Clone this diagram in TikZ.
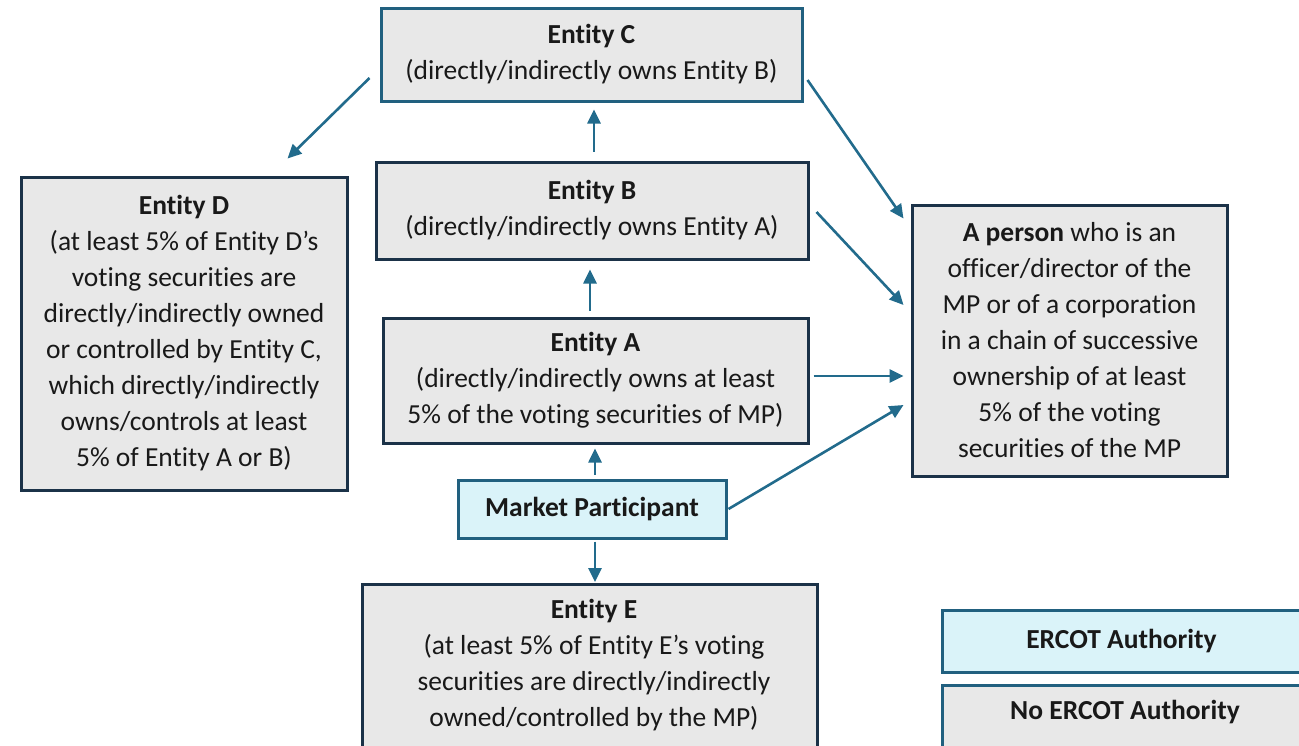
\documentclass[tikz,border=0pt]{standalone}
\usepackage{fontspec}
\setmainfont{Carlito}[Ligatures={NoCommon}]
\usetikzlibrary{arrows.meta,calc}
\definecolor{grayfill}{HTML}{E8E8E8}
\definecolor{bluefill}{HTML}{DAF3F9}
\definecolor{navy}{HTML}{1B3248}
\definecolor{tealb}{HTML}{21607F}
\definecolor{arrowc}{HTML}{226B8C}
\tikzset{
  txt/.style={font=\fontsize{27.5}{36}\selectfont, text=black!90},
  box/.style={draw=navy, fill=grayfill, line width=3pt, align=center, inner sep=0pt, txt},
  bbox/.style={box, draw=tealb},
  lbox/.style={box, draw=tealb, fill=bluefill},
  arr/.style={draw=arrowc, line width=2.6pt, -{Triangle[length=14pt,width=13pt]}},
}
\begin{document}
\begin{tikzpicture}[x=1pt,y=-1pt]
\useasboundingbox (0,0) rectangle (1299,745);
\clip (0,0) rectangle (1299,745);
\node[bbox, minimum width=421pt, minimum height=93pt] (C) at (591.5,54.5)
  {\textbf{Entity C}\\(directly/indirectly owns Entity B)};
\node[box, minimum width=432pt, minimum height=97pt] (B) at (592,210.5)
  {\textbf{Entity B}\\(directly/indirectly owns Entity A)};
\node[box, minimum width=425pt, minimum height=125pt] (A) at (595.5,380.5)
  {\textbf{Entity A}\\(directly/indirectly owns at least\\5\% of the voting securities of MP)};
\node[lbox, minimum width=268pt, minimum height=58pt] (MP) at (592,509)
  {\textbf{Market Participant}};
\node[box, minimum width=455pt, minimum height=200pt, anchor=north] (E) at (589.5,583)
  {};
\node[txt, align=center, anchor=north] (Et) at (594,596)
  {\textbf{Entity E}\\(at least 5\% of Entity E’s voting\\securities are directly/indirectly\\owned/controlled by the MP)};
\node[box, minimum width=326pt, minimum height=313pt] (D) at (184,333.5)
  {\textbf{Entity D}\\(at least 5\% of Entity D’s\\voting securities are\\directly/indirectly owned\\or controlled by Entity C,\\which directly/indirectly\\owns/controls at least\\5\% of Entity A or B)};
\node[box, minimum width=315pt, minimum height=271pt] (P) at (1069.5,340.5)
  {\textbf{A person} who is an\\officer/director of the\\MP or of a corporation\\in a chain of successive\\ownership of at least\\5\% of the voting\\securities of the MP};
\node[lbox, minimum width=366pt, minimum height=62pt, anchor=west] (L1) at (941,641)
  {\hspace*{-8pt}\textbf{ERCOT Authority}};
\node[box, draw=tealb, minimum width=370pt, minimum height=70pt, anchor=north west] (L2) at (941,684)
  {};
\node[txt] (L2t) at (1125,712) {\textbf{No ERCOT Authority}};
% arrows
\draw[arr] ($(B.north)+(2,-9)$) -- ($(C.south)+(2.5,7)$);
\draw[arr] ($(A.north)+(-5.5,-6)$) -- ($(B.south)+(-2,9)$);
\draw[arr] ($(MP.north)+(3,-4)$) -- ($(A.south)+(-0.5,4)$);
\draw[arr] ($(MP.south)+(3,2)$) -- ($(E.north)+(5.5,-1)$);
\draw[arr] ($(C.west)+(-10,23.5)$) -- ($(D.north east)+(-61,-17)$);
\draw[arr] ($(C.east)+(4,25.5)$) -- ($(P.north west)+(-7,15)$);
\draw[arr] ($(B.east)+(7,1.5)$) -- ($(P.west)+(-7,-35.5)$);
\draw[arr] ($(A.east)+(4,-4.5)$) -- ($(P.west)+(-7,35.5)$);
\draw[arr] ($(MP.east)+(1,0)$) -- ($(P.west)+(-7,64.5)$);
\end{tikzpicture}
\end{document}
